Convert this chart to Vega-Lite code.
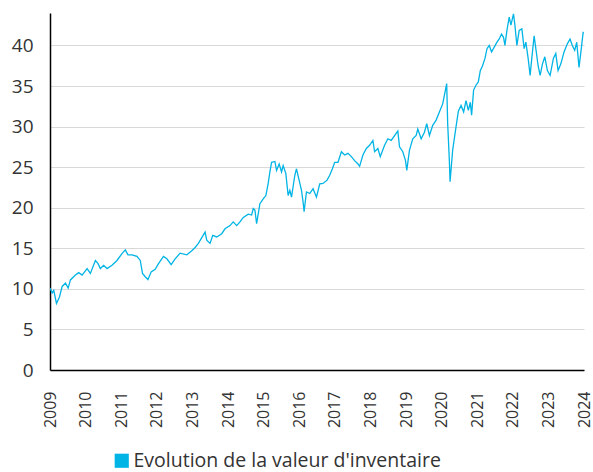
{
  "$schema": "https://vega.github.io/schema/vega-lite/v6.json",
  "width": 534,
  "height": 357,
  "autosize": {"type": "none"},
  "padding": {"left": 50, "top": 13, "right": 9, "bottom": 102},
  "background": "white",
  "config": {
    "font": "Open Sans",
    "view": {"stroke": null},
    "axis": {"labelFont": "Open Sans", "labelColor": "#333333"}
  },
  "data": {
    "values": [
      {"annee": 2009.0, "valeur": 10.1, "serie": "Evolution de la valeur d'inventaire"},
      {"annee": 2009.062, "valeur": 9.5, "serie": "Evolution de la valeur d'inventaire"},
      {"annee": 2009.106, "valeur": 9.8, "serie": "Evolution de la valeur d'inventaire"},
      {"annee": 2009.182, "valeur": 8.2, "serie": "Evolution de la valeur d'inventaire"},
      {"annee": 2009.266, "valeur": 9.0, "serie": "Evolution de la valeur d'inventaire"},
      {"annee": 2009.342, "valeur": 10.3, "serie": "Evolution de la valeur d'inventaire"},
      {"annee": 2009.434, "valeur": 10.7, "serie": "Evolution de la valeur d'inventaire"},
      {"annee": 2009.510, "valeur": 10.1, "serie": "Evolution de la valeur d'inventaire"},
      {"annee": 2009.574, "valeur": 11.1, "serie": "Evolution de la valeur d'inventaire"},
      {"annee": 2009.714, "valeur": 11.7, "serie": "Evolution de la valeur d'inventaire"},
      {"annee": 2009.807, "valeur": 12.0, "serie": "Evolution de la valeur d'inventaire"},
      {"annee": 2009.902, "valeur": 11.7, "serie": "Evolution de la valeur d'inventaire"},
      {"annee": 2010.042, "valeur": 12.5, "serie": "Evolution de la valeur d'inventaire"},
      {"annee": 2010.134, "valeur": 11.9, "serie": "Evolution de la valeur d'inventaire"},
      {"annee": 2010.275, "valeur": 13.5, "serie": "Evolution de la valeur d'inventaire"},
      {"annee": 2010.350, "valeur": 13.1, "serie": "Evolution de la valeur d'inventaire"},
      {"annee": 2010.415, "valeur": 12.5, "serie": "Evolution de la valeur d'inventaire"},
      {"annee": 2010.507, "valeur": 12.9, "serie": "Evolution de la valeur d'inventaire"},
      {"annee": 2010.602, "valeur": 12.5, "serie": "Evolution de la valeur d'inventaire"},
      {"annee": 2010.742, "valeur": 12.9, "serie": "Evolution de la valeur d'inventaire"},
      {"annee": 2010.882, "valeur": 13.5, "serie": "Evolution de la valeur d'inventaire"},
      {"annee": 2011.022, "valeur": 14.35, "serie": "Evolution de la valeur d'inventaire"},
      {"annee": 2011.115, "valeur": 14.8, "serie": "Evolution de la valeur d'inventaire"},
      {"annee": 2011.190, "valeur": 14.2, "serie": "Evolution de la valeur d'inventaire"},
      {"annee": 2011.303, "valeur": 14.2, "serie": "Evolution de la valeur d'inventaire"},
      {"annee": 2011.443, "valeur": 14.0, "serie": "Evolution de la valeur d'inventaire"},
      {"annee": 2011.535, "valeur": 13.5, "serie": "Evolution de la valeur d'inventaire"},
      {"annee": 2011.599, "valeur": 11.9, "serie": "Evolution de la valeur d'inventaire"},
      {"annee": 2011.675, "valeur": 11.5, "serie": "Evolution de la valeur d'inventaire"},
      {"annee": 2011.751, "valeur": 11.15, "serie": "Evolution de la valeur d'inventaire"},
      {"annee": 2011.843, "valeur": 12.1, "serie": "Evolution de la valeur d'inventaire"},
      {"annee": 2011.955, "valeur": 12.4, "serie": "Evolution de la valeur d'inventaire"},
      {"annee": 2012.048, "valeur": 13.1, "serie": "Evolution de la valeur d'inventaire"},
      {"annee": 2012.188, "valeur": 14.0, "serie": "Evolution de la valeur d'inventaire"},
      {"annee": 2012.283, "valeur": 13.7, "serie": "Evolution de la valeur d'inventaire"},
      {"annee": 2012.403, "valeur": 13.0, "serie": "Evolution de la valeur d'inventaire"},
      {"annee": 2012.515, "valeur": 13.7, "serie": "Evolution de la valeur d'inventaire"},
      {"annee": 2012.655, "valeur": 14.4, "serie": "Evolution de la valeur d'inventaire"},
      {"annee": 2012.843, "valeur": 14.2, "serie": "Evolution de la valeur d'inventaire"},
      {"annee": 2012.983, "valeur": 14.7, "serie": "Evolution de la valeur d'inventaire"},
      {"annee": 2013.076, "valeur": 15.1, "serie": "Evolution de la valeur d'inventaire"},
      {"annee": 2013.168, "valeur": 15.6, "serie": "Evolution de la valeur d'inventaire"},
      {"annee": 2013.356, "valeur": 17.0, "serie": "Evolution de la valeur d'inventaire"},
      {"annee": 2013.403, "valeur": 16.0, "serie": "Evolution de la valeur d'inventaire"},
      {"annee": 2013.496, "valeur": 15.6, "serie": "Evolution de la valeur d'inventaire"},
      {"annee": 2013.571, "valeur": 16.6, "serie": "Evolution de la valeur d'inventaire"},
      {"annee": 2013.683, "valeur": 16.4, "serie": "Evolution de la valeur d'inventaire"},
      {"annee": 2013.824, "valeur": 16.8, "serie": "Evolution de la valeur d'inventaire"},
      {"annee": 2013.916, "valeur": 17.4, "serie": "Evolution de la valeur d'inventaire"},
      {"annee": 2014.056, "valeur": 17.8, "serie": "Evolution de la valeur d'inventaire"},
      {"annee": 2014.148, "valeur": 18.25, "serie": "Evolution de la valeur d'inventaire"},
      {"annee": 2014.244, "valeur": 17.8, "serie": "Evolution de la valeur d'inventaire"},
      {"annee": 2014.336, "valeur": 18.25, "serie": "Evolution de la valeur d'inventaire"},
      {"annee": 2014.429, "valeur": 18.8, "serie": "Evolution de la valeur d'inventaire"},
      {"annee": 2014.569, "valeur": 19.2, "serie": "Evolution de la valeur d'inventaire"},
      {"annee": 2014.664, "valeur": 19.1, "serie": "Evolution de la valeur d'inventaire"},
      {"annee": 2014.709, "valeur": 19.9, "serie": "Evolution de la valeur d'inventaire"},
      {"annee": 2014.756, "valeur": 19.7, "serie": "Evolution de la valeur d'inventaire"},
      {"annee": 2014.804, "valeur": 18.05, "serie": "Evolution de la valeur d'inventaire"},
      {"annee": 2014.896, "valeur": 20.5, "serie": "Evolution de la valeur d'inventaire"},
      {"annee": 2014.989, "valeur": 21.1, "serie": "Evolution de la valeur d'inventaire"},
      {"annee": 2015.064, "valeur": 21.5, "serie": "Evolution de la valeur d'inventaire"},
      {"annee": 2015.129, "valeur": 23.0, "serie": "Evolution de la valeur d'inventaire"},
      {"annee": 2015.176, "valeur": 24.4, "serie": "Evolution de la valeur d'inventaire"},
      {"annee": 2015.224, "valeur": 25.6, "serie": "Evolution de la valeur d'inventaire"},
      {"annee": 2015.317, "valeur": 25.7, "serie": "Evolution de la valeur d'inventaire"},
      {"annee": 2015.364, "valeur": 24.6, "serie": "Evolution de la valeur d'inventaire"},
      {"annee": 2015.437, "valeur": 25.4, "serie": "Evolution de la valeur d'inventaire"},
      {"annee": 2015.504, "valeur": 24.4, "serie": "Evolution de la valeur d'inventaire"},
      {"annee": 2015.549, "valeur": 25.2, "serie": "Evolution de la valeur d'inventaire"},
      {"annee": 2015.625, "valeur": 24.2, "serie": "Evolution de la valeur d'inventaire"},
      {"annee": 2015.689, "valeur": 21.5, "serie": "Evolution de la valeur d'inventaire"},
      {"annee": 2015.737, "valeur": 22.15, "serie": "Evolution de la valeur d'inventaire"},
      {"annee": 2015.784, "valeur": 21.3, "serie": "Evolution de la valeur d'inventaire"},
      {"annee": 2015.877, "valeur": 24.0, "serie": "Evolution de la valeur d'inventaire"},
      {"annee": 2015.924, "valeur": 24.8, "serie": "Evolution de la valeur d'inventaire"},
      {"annee": 2015.997, "valeur": 23.4, "serie": "Evolution de la valeur d'inventaire"},
      {"annee": 2016.064, "valeur": 22.15, "serie": "Evolution de la valeur d'inventaire"},
      {"annee": 2016.109, "valeur": 20.7, "serie": "Evolution de la valeur d'inventaire"},
      {"annee": 2016.137, "valeur": 19.5, "serie": "Evolution de la valeur d'inventaire"},
      {"annee": 2016.204, "valeur": 21.95, "serie": "Evolution de la valeur d'inventaire"},
      {"annee": 2016.297, "valeur": 21.75, "serie": "Evolution de la valeur d'inventaire"},
      {"annee": 2016.389, "valeur": 22.35, "serie": "Evolution de la valeur d'inventaire"},
      {"annee": 2016.485, "valeur": 21.3, "serie": "Evolution de la valeur d'inventaire"},
      {"annee": 2016.577, "valeur": 22.95, "serie": "Evolution de la valeur d'inventaire"},
      {"annee": 2016.669, "valeur": 23.0, "serie": "Evolution de la valeur d'inventaire"},
      {"annee": 2016.782, "valeur": 23.4, "serie": "Evolution de la valeur d'inventaire"},
      {"annee": 2016.857, "valeur": 24.0, "serie": "Evolution de la valeur d'inventaire"},
      {"annee": 2016.933, "valeur": 24.8, "serie": "Evolution de la valeur d'inventaire"},
      {"annee": 2016.997, "valeur": 25.6, "serie": "Evolution de la valeur d'inventaire"},
      {"annee": 2017.090, "valeur": 25.6, "serie": "Evolution de la valeur d'inventaire"},
      {"annee": 2017.185, "valeur": 26.9, "serie": "Evolution de la valeur d'inventaire"},
      {"annee": 2017.277, "valeur": 26.5, "serie": "Evolution de la valeur d'inventaire"},
      {"annee": 2017.370, "valeur": 26.7, "serie": "Evolution de la valeur d'inventaire"},
      {"annee": 2017.465, "valeur": 26.3, "serie": "Evolution de la valeur d'inventaire"},
      {"annee": 2017.557, "valeur": 25.8, "serie": "Evolution de la valeur d'inventaire"},
      {"annee": 2017.650, "valeur": 25.4, "serie": "Evolution de la valeur d'inventaire"},
      {"annee": 2017.697, "valeur": 25.1, "serie": "Evolution de la valeur d'inventaire"},
      {"annee": 2017.790, "valeur": 26.5, "serie": "Evolution de la valeur d'inventaire"},
      {"annee": 2017.885, "valeur": 27.3, "serie": "Evolution de la valeur d'inventaire"},
      {"annee": 2017.978, "valeur": 27.7, "serie": "Evolution de la valeur d'inventaire"},
      {"annee": 2018.070, "valeur": 28.3, "serie": "Evolution de la valeur d'inventaire"},
      {"annee": 2018.118, "valeur": 26.9, "serie": "Evolution de la valeur d'inventaire"},
      {"annee": 2018.210, "valeur": 27.3, "serie": "Evolution de la valeur d'inventaire"},
      {"annee": 2018.277, "valeur": 26.3, "serie": "Evolution de la valeur d'inventaire"},
      {"annee": 2018.398, "valeur": 27.7, "serie": "Evolution de la valeur d'inventaire"},
      {"annee": 2018.490, "valeur": 28.5, "serie": "Evolution de la valeur d'inventaire"},
      {"annee": 2018.585, "valeur": 28.3, "serie": "Evolution de la valeur d'inventaire"},
      {"annee": 2018.678, "valeur": 28.9, "serie": "Evolution de la valeur d'inventaire"},
      {"annee": 2018.770, "valeur": 29.45, "serie": "Evolution de la valeur d'inventaire"},
      {"annee": 2018.818, "valeur": 27.5, "serie": "Evolution de la valeur d'inventaire"},
      {"annee": 2018.910, "valeur": 26.9, "serie": "Evolution de la valeur d'inventaire"},
      {"annee": 2018.986, "valeur": 25.8, "serie": "Evolution de la valeur d'inventaire"},
      {"annee": 2019.022, "valeur": 24.6, "serie": "Evolution de la valeur d'inventaire"},
      {"annee": 2019.098, "valeur": 27.1, "serie": "Evolution de la valeur d'inventaire"},
      {"annee": 2019.190, "valeur": 28.5, "serie": "Evolution de la valeur d'inventaire"},
      {"annee": 2019.286, "valeur": 28.9, "serie": "Evolution de la valeur d'inventaire"},
      {"annee": 2019.331, "valeur": 29.7, "serie": "Evolution de la valeur d'inventaire"},
      {"annee": 2019.426, "valeur": 28.5, "serie": "Evolution de la valeur d'inventaire"},
      {"annee": 2019.518, "valeur": 29.3, "serie": "Evolution de la valeur d'inventaire"},
      {"annee": 2019.583, "valeur": 30.35, "serie": "Evolution de la valeur d'inventaire"},
      {"annee": 2019.658, "valeur": 28.9, "serie": "Evolution de la valeur d'inventaire"},
      {"annee": 2019.751, "valeur": 30.15, "serie": "Evolution de la valeur d'inventaire"},
      {"annee": 2019.846, "valeur": 30.8, "serie": "Evolution de la valeur d'inventaire"},
      {"annee": 2019.938, "valeur": 31.8, "serie": "Evolution de la valeur d'inventaire"},
      {"annee": 2020.031, "valeur": 32.8, "serie": "Evolution de la valeur d'inventaire"},
      {"annee": 2020.078, "valeur": 33.85, "serie": "Evolution de la valeur d'inventaire"},
      {"annee": 2020.143, "valeur": 35.3, "serie": "Evolution de la valeur d'inventaire"},
      {"annee": 2020.171, "valeur": 30.35, "serie": "Evolution de la valeur d'inventaire"},
      {"annee": 2020.218, "valeur": 25.8, "serie": "Evolution de la valeur d'inventaire"},
      {"annee": 2020.238, "valeur": 23.2, "serie": "Evolution de la valeur d'inventaire"},
      {"annee": 2020.311, "valeur": 27.1, "serie": "Evolution de la valeur d'inventaire"},
      {"annee": 2020.406, "valeur": 30.0, "serie": "Evolution de la valeur d'inventaire"},
      {"annee": 2020.471, "valeur": 31.9, "serie": "Evolution de la valeur d'inventaire"},
      {"annee": 2020.546, "valeur": 32.6, "serie": "Evolution de la valeur d'inventaire"},
      {"annee": 2020.619, "valeur": 31.8, "serie": "Evolution de la valeur d'inventaire"},
      {"annee": 2020.686, "valeur": 33.2, "serie": "Evolution de la valeur d'inventaire"},
      {"annee": 2020.751, "valeur": 32.0, "serie": "Evolution de la valeur d'inventaire"},
      {"annee": 2020.807, "valeur": 33.0, "serie": "Evolution de la valeur d'inventaire"},
      {"annee": 2020.843, "valeur": 31.4, "serie": "Evolution de la valeur d'inventaire"},
      {"annee": 2020.899, "valeur": 34.5, "serie": "Evolution de la valeur d'inventaire"},
      {"annee": 2020.966, "valeur": 35.1, "serie": "Evolution de la valeur d'inventaire"},
      {"annee": 2021.031, "valeur": 35.5, "serie": "Evolution de la valeur d'inventaire"},
      {"annee": 2021.087, "valeur": 36.9, "serie": "Evolution de la valeur d'inventaire"},
      {"annee": 2021.151, "valeur": 37.5, "serie": "Evolution de la valeur d'inventaire"},
      {"annee": 2021.218, "valeur": 38.4, "serie": "Evolution de la valeur d'inventaire"},
      {"annee": 2021.275, "valeur": 39.6, "serie": "Evolution de la valeur d'inventaire"},
      {"annee": 2021.339, "valeur": 40.0, "serie": "Evolution de la valeur d'inventaire"},
      {"annee": 2021.403, "valeur": 39.2, "serie": "Evolution de la valeur d'inventaire"},
      {"annee": 2021.479, "valeur": 39.8, "serie": "Evolution de la valeur d'inventaire"},
      {"annee": 2021.555, "valeur": 40.4, "serie": "Evolution de la valeur d'inventaire"},
      {"annee": 2021.619, "valeur": 40.8, "serie": "Evolution de la valeur d'inventaire"},
      {"annee": 2021.683, "valeur": 41.4, "serie": "Evolution de la valeur d'inventaire"},
      {"annee": 2021.739, "valeur": 41.0, "serie": "Evolution de la valeur d'inventaire"},
      {"annee": 2021.779, "valeur": 40.0, "serie": "Evolution de la valeur d'inventaire"},
      {"annee": 2021.835, "valeur": 41.85, "serie": "Evolution de la valeur d'inventaire"},
      {"annee": 2021.899, "valeur": 43.5, "serie": "Evolution de la valeur d'inventaire"},
      {"annee": 2021.947, "valeur": 42.5, "serie": "Evolution de la valeur d'inventaire"},
      {"annee": 2022.020, "valeur": 43.9, "serie": "Evolution de la valeur d'inventaire"},
      {"annee": 2022.059, "valeur": 42.5, "serie": "Evolution de la valeur d'inventaire"},
      {"annee": 2022.115, "valeur": 40.0, "serie": "Evolution de la valeur d'inventaire"},
      {"annee": 2022.179, "valeur": 41.85, "serie": "Evolution de la valeur d'inventaire"},
      {"annee": 2022.255, "valeur": 42.05, "serie": "Evolution de la valeur d'inventaire"},
      {"annee": 2022.319, "valeur": 39.6, "serie": "Evolution de la valeur d'inventaire"},
      {"annee": 2022.367, "valeur": 40.4, "serie": "Evolution de la valeur d'inventaire"},
      {"annee": 2022.431, "valeur": 38.4, "serie": "Evolution de la valeur d'inventaire"},
      {"annee": 2022.487, "valeur": 36.3, "serie": "Evolution de la valeur d'inventaire"},
      {"annee": 2022.524, "valeur": 38.0, "serie": "Evolution de la valeur d'inventaire"},
      {"annee": 2022.599, "valeur": 41.2, "serie": "Evolution de la valeur d'inventaire"},
      {"annee": 2022.647, "valeur": 39.6, "serie": "Evolution de la valeur d'inventaire"},
      {"annee": 2022.711, "valeur": 37.5, "serie": "Evolution de la valeur d'inventaire"},
      {"annee": 2022.768, "valeur": 36.3, "serie": "Evolution de la valeur d'inventaire"},
      {"annee": 2022.832, "valeur": 37.7, "serie": "Evolution de la valeur d'inventaire"},
      {"annee": 2022.899, "valeur": 38.6, "serie": "Evolution de la valeur d'inventaire"},
      {"annee": 2022.972, "valeur": 36.9, "serie": "Evolution de la valeur d'inventaire"},
      {"annee": 2023.048, "valeur": 36.3, "serie": "Evolution de la valeur d'inventaire"},
      {"annee": 2023.140, "valeur": 38.4, "serie": "Evolution de la valeur d'inventaire"},
      {"annee": 2023.207, "valeur": 39.0, "serie": "Evolution de la valeur d'inventaire"},
      {"annee": 2023.272, "valeur": 36.9, "serie": "Evolution de la valeur d'inventaire"},
      {"annee": 2023.347, "valeur": 37.7, "serie": "Evolution de la valeur d'inventaire"},
      {"annee": 2023.440, "valeur": 39.2, "serie": "Evolution de la valeur d'inventaire"},
      {"annee": 2023.532, "valeur": 40.2, "serie": "Evolution de la valeur d'inventaire"},
      {"annee": 2023.608, "valeur": 40.8, "serie": "Evolution de la valeur d'inventaire"},
      {"annee": 2023.672, "valeur": 40.0, "serie": "Evolution de la valeur d'inventaire"},
      {"annee": 2023.739, "valeur": 39.4, "serie": "Evolution de la valeur d'inventaire"},
      {"annee": 2023.796, "valeur": 40.4, "serie": "Evolution de la valeur d'inventaire"},
      {"annee": 2023.860, "valeur": 37.3, "serie": "Evolution de la valeur d'inventaire"},
      {"annee": 2023.924, "valeur": 39.6, "serie": "Evolution de la valeur d'inventaire"},
      {"annee": 2023.975, "valeur": 41.6, "serie": "Evolution de la valeur d'inventaire"},
      {"annee": 2024.0, "valeur": 41.5, "serie": "Evolution de la valeur d'inventaire"}
    ]
  },
  "mark": {"type": "line", "strokeWidth": 1.3, "interpolate": "linear", "clip": true},
  "encoding": {
    "x": {
      "field": "annee",
      "type": "quantitative",
      "scale": {"domain": [2009, 2024], "nice": false, "zero": false},
      "axis": {
        "title": null,
        "values": [2009, 2010, 2011, 2012, 2013, 2014, 2015, 2016, 2017, 2018, 2019, 2020, 2021, 2022, 2023, 2024],
        "format": "d",
        "labelAngle": -90,
        "labelAlign": "right",
        "labelBaseline": "middle",
        "labelFontSize": 16,
        "labelPadding": 21,
        "labelColor": "#333333",
        "ticks": false,
        "grid": false,
        "domain": true,
        "domainColor": "#000000",
        "domainWidth": 1.5,
        "labelOverlap": false,
        "labelFlush": false,
        "labelBound": false
      }
    },
    "y": {
      "field": "valeur",
      "type": "quantitative",
      "scale": {"domain": [0, 44], "nice": false},
      "axis": {
        "title": null,
        "values": [0, 5, 10, 15, 20, 25, 30, 35, 40],
        "labelFontSize": 19,
        "labelPadding": 17,
        "labelColor": "#333333",
        "ticks": false,
        "grid": true,
        "gridColor": "#d9d9d9",
        "gridWidth": 1,
        "domain": true,
        "domainColor": "#000000",
        "domainWidth": 1.5
      }
    },
    "color": {
      "field": "serie",
      "type": "nominal",
      "scale": {"range": ["#00B4E5"]},
      "legend": {
        "title": null,
        "orient": "none",
        "legendX": 62,
        "legendY": 438,
        "symbolType": "square",
        "symbolSize": 200,
        "symbolFillColor": "#00B4E5",
        "symbolStrokeColor": "#00B4E5",
        "symbolStrokeWidth": 0,
        "labelFontSize": 19.5,
        "labelColor": "#333333",
        "labelFont": "Open Sans",
        "labelOffset": 2,
        "labelLimit": 500
      }
    }
  }
}
